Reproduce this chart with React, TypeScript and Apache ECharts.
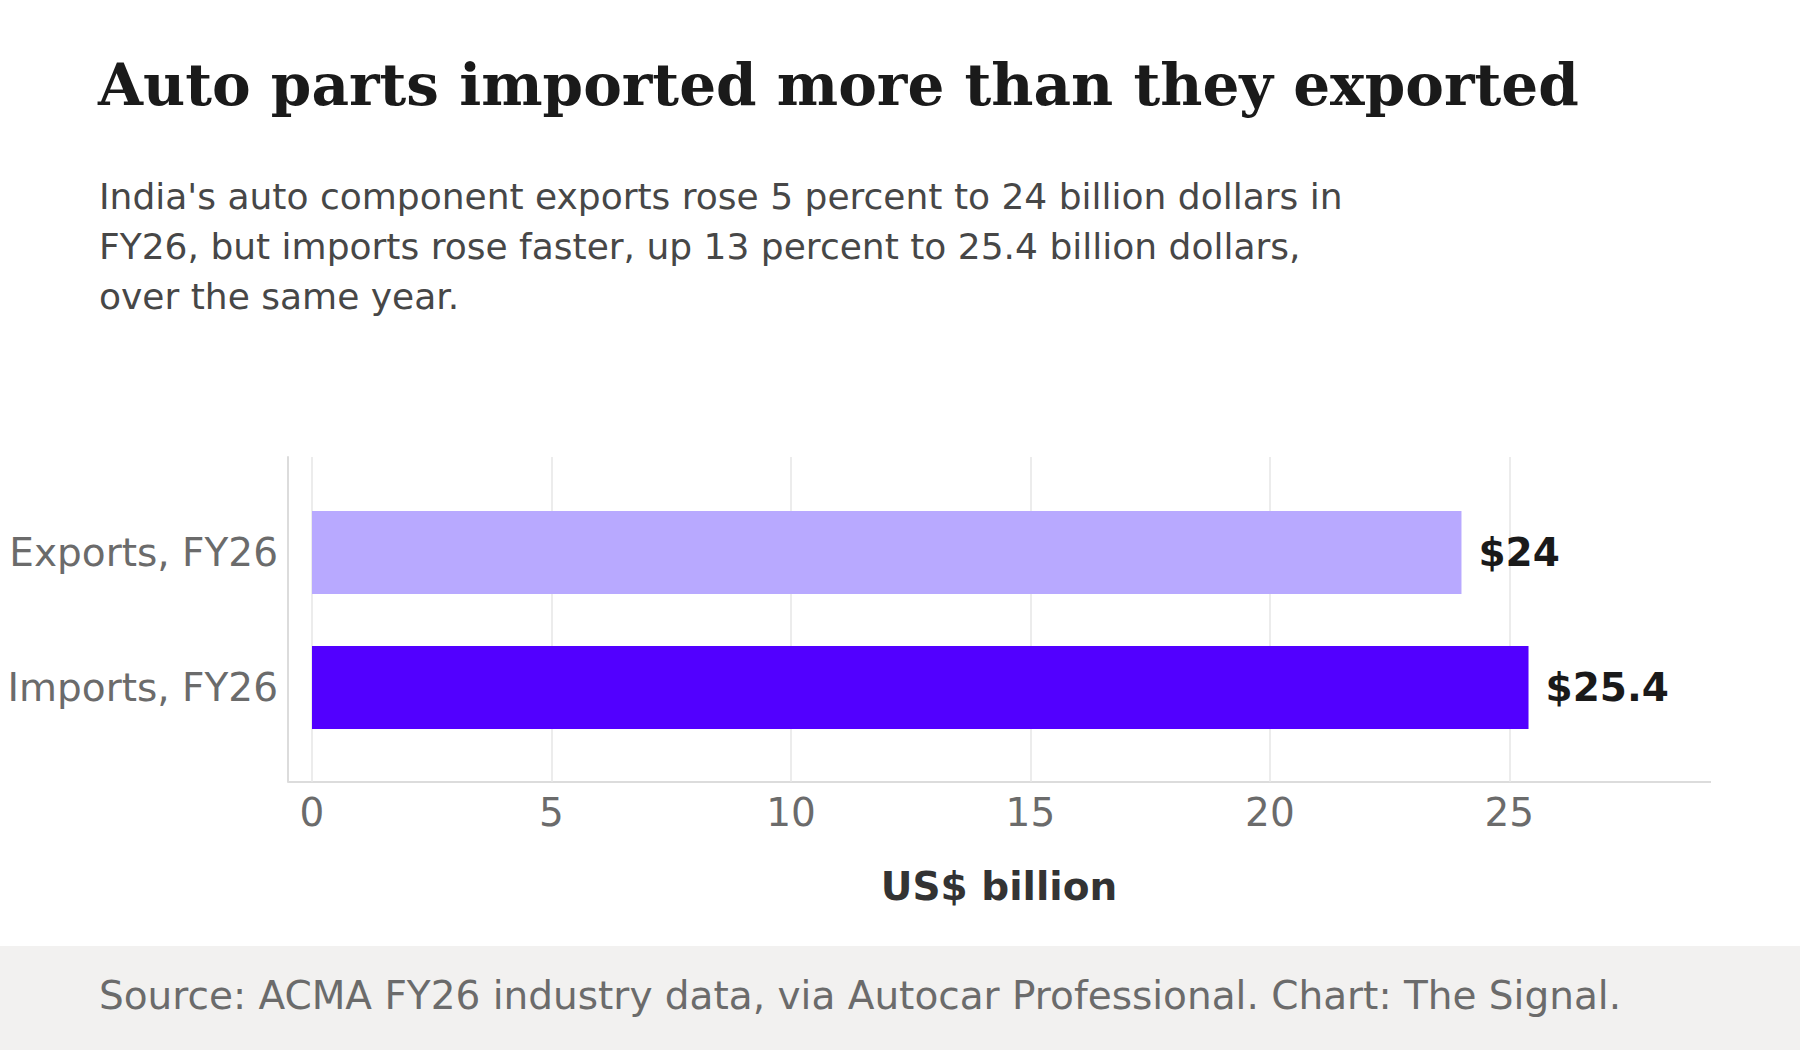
import { useRef, useEffect } from "react";
import * as echarts from "echarts";

// chart data
const categories = ["Exports, FY26", "Imports, FY26"];
const values = [24, 25.4];
const barColors = ["#b8a9ff", "#5200ff"];
const tickStep = 5;

const titleText = "Auto parts imported more than they exported";
const subtitleText =
  "India's auto component exports rose 5 percent to 24 billion dollars in\n" +
  "FY26, but imports rose faster, up 13 percent to 25.4 billion dollars,\n" +
  "over the same year.";
const sourceText =
  "Source: ACMA FY26 industry data, via Autocar Professional. Chart: The Signal.";
const axisTitle = "US$ billion";

const SANS = "'DejaVu Sans', sans-serif";
const SERIF = "'DejaVu Serif', serif";

const xMax = Math.max(...values) * 1.15;

const option = {
  animation: false,
  backgroundColor: "#ffffff",
  grid: [
    // frame grid: gridlines, tick labels and left axis line
    { left: 312, right: 89, top: 457, bottom: 268 },
    // data grid: bars and category labels
    { left: 312, right: 89, top: 485, bottom: 295 },
  ],
  xAxis: [
    {
      type: "value",
      gridIndex: 0,
      min: 0,
      max: xMax,
      interval: tickStep,
      axisLine: { show: false },
      axisTick: { show: false },
      splitLine: {
        show: true,
        showMaxLine: false,
        lineStyle: { color: "#e6e6e6", width: 1.5 },
      },
      axisLabel: {
        color: "#6b6b6b",
        fontSize: 39,
        fontFamily: SANS,
        margin: 11,
        showMaxLabel: false,
      },
    },
    {
      type: "value",
      gridIndex: 1,
      min: 0,
      max: xMax,
      show: false,
    },
  ],
  yAxis: [
    {
      type: "value",
      gridIndex: 0,
      offset: 24,
      axisLine: { show: true, onZero: false, lineStyle: { color: "#dcdcdc", width: 2 } },
      axisTick: { show: false },
      axisLabel: { show: false },
      splitLine: { show: false },
    },
    {
      type: "category",
      gridIndex: 1,
      inverse: true,
      data: categories,
      axisLine: { show: false },
      axisTick: { show: false },
      splitLine: { show: false },
      axisLabel: {
        color: "#6b6b6b",
        fontSize: 39,
        fontFamily: SANS,
        margin: 34,
      },
    },
  ],
  series: [
    {
      type: "bar",
      xAxisIndex: 1,
      yAxisIndex: 1,
      barCategoryGap: "38.5%",
      data: values.map((v, i) => ({ value: v, itemStyle: { color: barColors[i] } })),
      label: {
        show: true,
        position: "right",
        distance: 17,
        formatter: (p: any) => "$" + p.value,
        color: "#1a1a1a",
        fontSize: 39,
        fontWeight: "bold",
        fontFamily: SANS,
      },
    },
  ],
  graphic: [
    {
      type: "text",
      left: 98,
      top: 56,
      style: {
        text: titleText,
        font: `bold 58px ${SERIF}`,
        fill: "#1a1a1a",
      },
    },
    {
      type: "text",
      left: 99,
      top: 171,
      style: {
        text: subtitleText,
        font: `36px ${SANS}`,
        lineHeight: 50,
        fill: "#474747",
      },
    },
    {
      type: "line",
      shape: { x1: 288, y1: 782, x2: 1711, y2: 782 },
      style: { stroke: "#dcdcdc", lineWidth: 2 },
    },
    {
      type: "text",
      x: 999,
      y: 886,
      style: {
        text: axisTitle,
        font: `bold 39px ${SANS}`,
        fill: "#333333",
        textAlign: "center",
        textVerticalAlign: "middle",
      },
    },
    {
      type: "rect",
      shape: { x: 0, y: 946, width: 1800, height: 104 },
      style: { fill: "#f2f1f0" },
      z: -10,
    },
    {
      type: "text",
      x: 99,
      y: 995,
      style: {
        text: sourceText,
        font: `39px ${SANS}`,
        fill: "#6b6b6b",
        textVerticalAlign: "middle",
      },
    },
  ],
};

const App = () => {
  const chartRef = useRef<HTMLDivElement>(null);

  useEffect(() => {
    const myChart = echarts.init(chartRef.current, null, { renderer: "svg" });
    myChart.setOption(option);
    return () => {
      myChart.dispose();
    };
  }, []);

  return (
    <div
      ref={chartRef}
      style={{ position: "absolute", left: 0, top: 0, width: "1800px", height: "1050px" }}
    ></div>
  );
};

export default App;
